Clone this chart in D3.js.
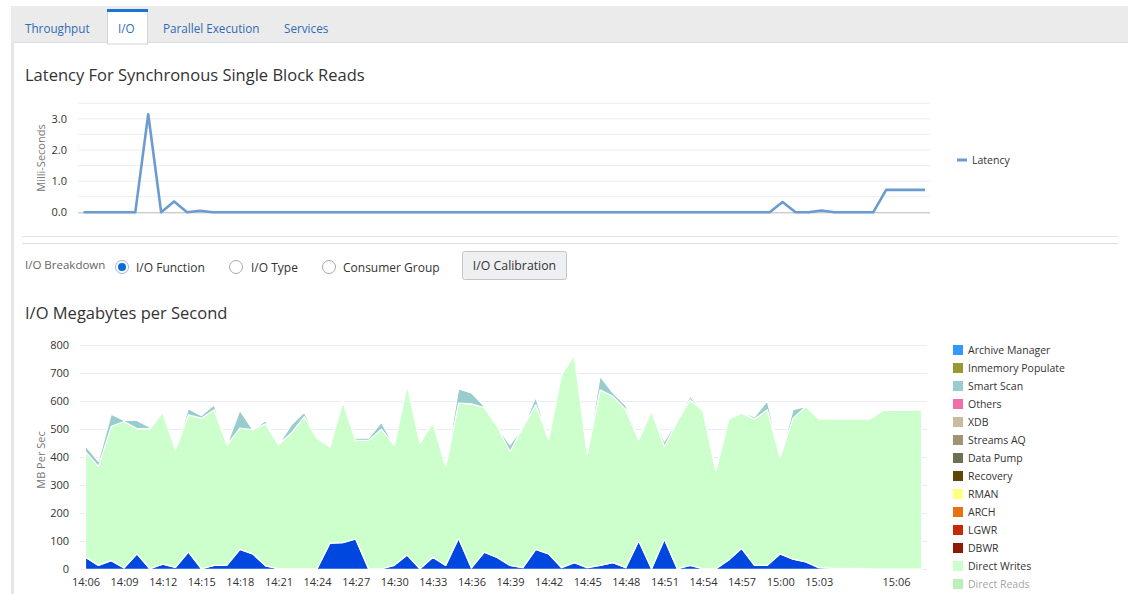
<!DOCTYPE html>
<html>
<head>
<meta charset="utf-8">
<script src="https://cdn.jsdelivr.net/npm/d3@7"></script>
<style>
  html, body { margin: 0; padding: 0; background: #fff; }
  svg { display: block; font-family: "Open Sans", "Noto Sans", sans-serif; }
</style>
</head>
<body>
<div id="page"></div>
<script>
// sample times (one per point on both charts)
const times = [
  "14:06","14:07","14:08","14:09","14:10","14:11","14:12","14:13","14:14","14:15",
  "14:16","14:17","14:18","14:19","14:20","14:21","14:22","14:23","14:24","14:25",
  "14:26","14:27","14:28","14:29","14:30","14:31","14:32","14:33","14:34","14:35",
  "14:36","14:37","14:38","14:39","14:40","14:41","14:42","14:43","14:44","14:45",
  "14:46","14:47","14:48","14:49","14:50","14:51","14:52","14:53","14:54","14:55",
  "14:56","14:57","14:58","14:59","15:00","15:01","15:02","15:03","15:03:30","15:04",
  "15:04:30","15:05","15:05:30","15:06","15:06:30","15:07"
];
const tickTimes = ["14:06","14:09","14:12","14:15","14:18","14:21","14:24","14:27","14:30",
  "14:33","14:36","14:39","14:42","14:45","14:48","14:51","14:54","14:57","15:00","15:03","15:06"];

const tabs = ["Throughput", "I/O", "Parallel Execution", "Services"];

// Latency (ms)
const latency = [
  0, 0, 0, 0, 0, 3.15, 0, 0.35, 0, 0.05,
  0, 0, 0, 0, 0, 0, 0, 0, 0, 0,
  0, 0, 0, 0, 0, 0, 0, 0, 0, 0,
  0, 0, 0, 0, 0, 0, 0, 0, 0, 0,
  0, 0, 0, 0, 0, 0, 0, 0, 0, 0,
  0, 0, 0, 0, 0.33, 0, 0, 0.06, 0, 0,
  0, 0, 0.72, 0.72, 0.72, 0.72
];

// MB per sec, by I/O function
const bufferCacheReads = [
  43, 14, 31, 5, 55, 2, 18, 7, 62, 2,
  14, 15, 71, 55, 12, 2, 2, 2, 2, 93,
  95, 108, 2, 2, 14, 51, 2, 43, 14, 111,
  5, 61, 42, 14, 6, 71, 55, 6, 24, 6,
  14, 24, 6, 102, 2, 107, 2, 14, 2, 2,
  33, 75, 14, 14, 55, 36, 26, 6, 4, 3,
  3, 2, 1, 1, 1, 1
];
const directWrites = [
  377, 353, 479, 522, 447, 500, 542, 419, 489, 537,
  555, 429, 433, 443, 507, 442, 484, 543, 466, 343,
  504, 352, 458, 498, 428, 607, 448, 481, 353, 482,
  585, 516, 468, 406, 501, 516, 409, 688, 741, 406,
  626, 593, 563, 360, 563, 331, 525, 591, 563, 350,
  503, 482, 522, 555, 345, 503, 555, 530, 532, 533,
  533, 534, 566, 566, 566, 566
];
const smartScan = [
  20, 18, 43, 4, 29, 5, 0, 0, 22, 9,
  18, 0, 63, 0, 11, 0, 29, 15, 0, 0,
  0, 8, 8, 24, 0, 0, 0, 0, 0, 50,
  39, 4, 0, 24, 0, 26, 0, 0, 0, 0,
  48, 12, 14, 0, 0, 18, 6, 12, 0, 0,
  0, 3, 7, 32, 0, 30, 0, 0, 0, 0,
  0, 0, 0, 0, 0, 0
];

const legendNames = ["Archive Manager", "Inmemory Populate", "Smart Scan", "Others", "XDB",
  "Streams AQ", "Data Pump", "Recovery", "RMAN", "ARCH", "LGWR", "DBWR",
  "Direct Writes", "Direct Reads"];
const legendColors = ["#3399ff", "#999933", "#99cccc", "#f26ea8", "#c8bb9e",
  "#a39274", "#6e6e52", "#5e4606", "#ffff80", "#e8700e", "#c42b05", "#8e1a06",
  "#ccffcc", "#66dd66"];
const hiddenSeries = ["Direct Reads"];
const bufferCacheColor = "#0047e0"; // below the visible part of the legend

const W = 1128, H = 594;
const svg = d3.select("#page").append("svg").attr("width", W).attr("height", H);

// ---- tab strip ----
svg.append("rect").attr("x", 11).attr("y", 6).attr("width", W - 11).attr("height", 36).attr("fill", "#ebebeb");
svg.append("line").attr("x1", 11).attr("x2", W).attr("y1", 42.5).attr("y2", 42.5).attr("stroke", "#d5dce3");
svg.append("rect").attr("x", 11).attr("y", 42).attr("width", 3).attr("height", H - 42).attr("fill", "#e6e6e6");

const tabX = [25, 118, 163, 284];
svg.append("rect").attr("x", 107.5).attr("y", 10).attr("width", 40).attr("height", 34)
  .attr("fill", "#fff").attr("stroke", "#d3d3d3");
svg.append("rect").attr("x", 107).attr("y", 9).attr("width", 41).attr("height", 3).attr("fill", "#1b75cf");
svg.selectAll("text.tab").data(tabs).enter().append("text")
  .attr("class", "tab")
  .attr("x", (d, i) => tabX[i]).attr("y", 33)
  .attr("font-size", 11.7).attr("fill", "#2f6cb5")
  .text(d => d);

// ---- latency chart ----
svg.append("text").attr("x", 25).attr("y", 81).attr("font-size", 16.5).attr("fill", "#333")
  .text("Latency For Synchronous Single Block Reads");

const xTop = d3.scalePoint().domain(times).range([83.5, 925]);
const yTop = d3.scaleLinear().domain([0, 3.5]).range([212.3, 103.3]);

const gridTop = svg.append("g");
gridTop.selectAll("line").data(d3.range(0.5, 3.51, 0.5)).enter().append("line")
  .attr("x1", 78).attr("x2", 930)
  .attr("y1", d => yTop(d)).attr("y2", d => yTop(d))
  .attr("stroke", "#ebedf0").attr("stroke-width", 1);
svg.append("line").attr("x1", 78).attr("x2", 930).attr("y1", yTop(0) + 0.5).attr("y2", yTop(0) + 0.5)
  .attr("stroke", "#b8b8b8");

const yAxisTop = svg.append("g").attr("transform", "translate(70,0)")
  .call(d3.axisLeft(yTop).tickValues([0, 1, 2, 3]).tickFormat(d3.format(".1f")).tickSize(0));
yAxisTop.select(".domain").remove();
yAxisTop.selectAll("text").attr("font-size", 11).attr("fill", "#333").attr("font-family", "Open Sans");

svg.append("text").attr("transform", "translate(45,158) rotate(-90)")
  .attr("text-anchor", "middle").attr("font-size", 11).attr("fill", "#777")
  .text("Milli-Seconds");

svg.append("path").datum(latency)
  .attr("fill", "none").attr("stroke", "#6b9bd1").attr("stroke-width", 2.6)
  .attr("stroke-linejoin", "round")
  .attr("d", d3.line().x((d, i) => xTop(times[i])).y(d => yTop(d)));

svg.append("line").attr("x1", 957).attr("x2", 967).attr("y1", 160).attr("y2", 160)
  .attr("stroke", "#6b9bd1").attr("stroke-width", 3);
svg.append("text").attr("x", 972).attr("y", 164).attr("font-size", 10.5).attr("fill", "#333").text("Latency");

// separators
svg.append("line").attr("x1", 22).attr("x2", 1118).attr("y1", 236.5).attr("y2", 236.5).attr("stroke", "#dde4ec");
svg.append("line").attr("x1", 22).attr("x2", 1118).attr("y1", 243.5).attr("y2", 243.5).attr("stroke", "#dedede");

// ---- breakdown controls ----
svg.append("text").attr("x", 25).attr("y", 269).attr("font-size", 11.5).attr("fill", "#666").text("I/O Breakdown");
const radios = [
  { label: "I/O Function", cx: 122, tx: 136, on: true },
  { label: "I/O Type", cx: 236, tx: 251, on: false },
  { label: "Consumer Group", cx: 329, tx: 343, on: false }
];
const rg = svg.selectAll("g.radio").data(radios).enter().append("g").attr("class", "radio");
rg.append("circle").attr("cx", d => d.cx).attr("cy", 267).attr("r", 6.5)
  .attr("fill", "#fff").attr("stroke", d => d.on ? "#9bb8d8" : "#a8a8a8");
rg.filter(d => d.on).append("circle").attr("cx", d => d.cx).attr("cy", 267).attr("r", 4).attr("fill", "#0a6cd6");
rg.append("text").attr("x", d => d.tx).attr("y", 272).attr("font-size", 12).attr("fill", "#333").text(d => d.label);

svg.append("rect").attr("x", 462.5).attr("y", 251.5).attr("width", 104).attr("height", 28).attr("rx", 2)
  .attr("fill", "#eeeff0").attr("stroke", "#c3c6c9");
svg.append("text").attr("x", 514.5).attr("y", 270).attr("text-anchor", "middle")
  .attr("font-size", 12.3).attr("fill", "#333").text("I/O Calibration");

// ---- I/O MB per sec chart ----
svg.append("text").attr("x", 25).attr("y", 319).attr("font-size", 16.5).attr("fill", "#333")
  .text("I/O Megabytes per Second");

const xBot = d3.scalePoint().domain(times).range([85.5, 921.7]);
const yBot = d3.scaleLinear().domain([0, 800]).range([569.3, 345]);

svg.append("g").selectAll("line").data(yBot.ticks(8)).enter().append("line")
  .attr("x1", 80).attr("x2", 927)
  .attr("y1", d => Math.round(yBot(d)) + 0.5).attr("y2", d => Math.round(yBot(d)) + 0.5)
  .attr("stroke", "#e9edf1");

const rows = times.map((t, i) => ({
  time: t,
  "Buffer Cache Reads": bufferCacheReads[i],
  "Direct Writes": directWrites[i],
  "Smart Scan": smartScan[i]
}));
const stackKeys = ["Buffer Cache Reads", "Direct Writes", "Smart Scan"];
const stacked = d3.stack().keys(stackKeys)(rows);
const colorOf = d3.scaleOrdinal()
  .domain(legendNames.concat(["Buffer Cache Reads"]))
  .range(legendColors.concat([bufferCacheColor]));

const area = d3.area()
  .x(d => xBot(d.data.time))
  .y0(d => yBot(d[0]))
  .y1(d => yBot(d[1]));

svg.append("g").selectAll("path").data(stacked).enter().append("path")
  .attr("fill", d => colorOf(d.key))
  .attr("stroke", "#fff").attr("stroke-width", 1.2).attr("stroke-linejoin", "round")
  .attr("d", area);

const yAxisBot = svg.append("g").attr("transform", "translate(72,0)")
  .call(d3.axisLeft(yBot).ticks(8).tickSize(0));
yAxisBot.select(".domain").remove();
yAxisBot.selectAll("text").attr("font-size", 11).attr("fill", "#333").attr("font-family", "Open Sans");

const xAxisBot = svg.append("g").attr("transform", "translate(0,575)")
  .call(d3.axisBottom(xBot).tickValues(tickTimes).tickSize(0));
xAxisBot.select(".domain").remove();
xAxisBot.selectAll("text").attr("font-size", 11).attr("fill", "#333").attr("font-family", "Open Sans");

svg.append("text").attr("transform", "translate(45,460) rotate(-90)")
  .attr("text-anchor", "middle").attr("font-size", 11).attr("fill", "#777")
  .text("MB Per Sec");

// legend
const lg = svg.selectAll("g.leg").data(legendNames).enter().append("g").attr("class", "leg")
  .attr("transform", (d, i) => `translate(953,${350 + i * 18})`)
  .attr("opacity", d => hiddenSeries.includes(d) ? 0.45 : 1);
lg.append("rect").attr("x", 0).attr("y", -5).attr("width", 10).attr("height", 10).attr("fill", d => colorOf(d));
lg.append("text").attr("x", 15).attr("y", 4).attr("font-size", 10.5).attr("fill", "#333").text(d => d);
</script>
</body>
</html>
